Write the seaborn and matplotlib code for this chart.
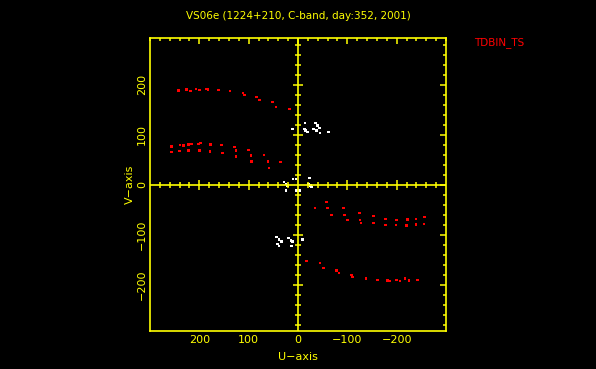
import numpy as np
import pandas as pd
import matplotlib
matplotlib.use("Agg")
import matplotlib.pyplot as plt
import seaborn as sns

# ---- data (u, v in the plot units) ----
red_u = [242.6, 225.6, 217.5, 206.8, 200.1, 186.5, 182.4, 161.6, 137.8, 111.5, 108.9, 83.7, 78.4, 52.1, 44.6, 17.6,
         256, 239.2, 232.5, 222.4, 215.5, 202.1, 197.2, 177, 154.7, 129.1, 100.7, 68.9, 35.1,
         256, 240.6, 222.4, 200.1, 178.4, 152.6, 125.7, 125.7, 95.3, 93.9, 60.8, 58.8,
         -34.5, -58.2, -60.2, -68.3, -91.8, -93.9, -99.9, -124.3, -125.7, -127.7, -152.6, -152.6, -177.8, -177.8,
         -200.1, -198.7, -221.6, -220.4, -239.2, -239.2, -256, -255.4,
         -17.6, -44.6, -51.3, -78.5, -83.1, -108.9, -110.9, -137.8, -160.8, -181.8, -186.5, -200.1, -206.8,
         -216.9, -225, -241.8]
red_v = [188, 190, 186.6, 191.4, 188.6, 191.4, 190, 189.4, 186.6, 182.6, 179.4, 175.4, 169.4, 165.4, 155.4, 151.4,
         76, 79.4, 78, 80, 81.4, 81.4, 82.6, 80, 79.4, 74.6, 69.4, 59.4, 45.4,
         64.6, 66.6, 68, 68, 66, 62.6, 68, 56, 58, 46, 46, 32.6,
         -47.4, -35.4, -46.6, -60.6, -47.4, -60.6, -70.6, -57.4, -70.6, -77.4, -63.4, -77.4, -68.6, -81.4,
         -70.6, -81.4, -70, -82, -68.6, -80, -65.4, -78.6,
         -153.4, -157.4, -167.4, -172, -177.4, -181.4, -184.6, -188, -190.6, -192, -193.4, -190.6, -193.4,
         -188, -192, -190.6]

white_u = [-14.2, -12.8, -15.6, -19.7, 11.6, -35.9, -39.1, -43.2, -31, -37.9, -44.6, -61.4,
           28.4, 24.3, 21.7, 24.3, 4, 10, 2.6, -3, -22.9, -20.9, -25.7, -27.8,
           43.2, 38.5, 33, 41.2, 38.5, 19.7, 14.2, 11.6, 12.8, -8.7]
white_v = [122.6, 111.4, 108, 104.6, 111.4, 122.6, 118, 113.4, 111.4, 108, 102.6, 104.6,
           4.6, 1.4, -2, -12, 11.4, 11.4, -12, -12, 12.6, 1.4, -2, -5.4,
           -105.4, -110, -114, -118.6, -123.4, -107.4, -112, -114, -123.4, -110]

x_ticks = [200, 100, 0, -100, -200]
y_ticks = [-200, -100, 0, 100, 200]

title = "VS06e (1224+210, C-band, day:352, 2001)"
tag = "TDBIN_TS"

YEL = "#ffff00"

df = pd.DataFrame({
    "u": red_u + white_u,
    "v": red_v + white_v,
    "kind": ["red"] * len(red_u) + ["white"] * len(white_u),
})

sns.set_style("dark")
plt.rcParams["font.family"] = ["DejaVu Sans"]

fig = plt.figure(figsize=(5.96, 3.69), dpi=100, facecolor="black")
ax = fig.add_axes([150 / 596, 1 - 331 / 369, 296 / 596, 293 / 369])
ax.set_facecolor("black")
ax.grid(False)

sns.scatterplot(data=df, x="u", y="v", hue="kind", palette={"red": "#ff0000", "white": "#ffffff"},
                marker="s", s=3.5, linewidth=0, legend=False, ax=ax)

ax.set_xlim(300, -300)
ax.set_ylim(-293, 293)

# central cross with ticks
ax.axvline(0, color=YEL, lw=1.2, zorder=1)
ax.axhline(0, color=YEL, lw=1.2, zorder=1)
minor = np.arange(-280, 281, 20)
minor = minor[(minor % 100) != 0]
major = np.array([-200, -100, 100, 200])
ax.plot(np.zeros(len(minor)), minor, ls="none", marker="_", ms=4.3, mew=1.1, color=YEL, zorder=1)
ax.plot(np.zeros(len(major)), major, ls="none", marker="_", ms=7.5, mew=1.1, color=YEL, zorder=1)
ax.plot(minor, np.zeros(len(minor)), ls="none", marker="|", ms=4.3, mew=1.1, color=YEL, zorder=1)
ax.plot(major, np.zeros(len(major)), ls="none", marker="|", ms=7.5, mew=1.1, color=YEL, zorder=1)

for s in ax.spines.values():
    s.set_color(YEL)
    s.set_linewidth(1.2)
    s.set_visible(True)

ax.set_xticks(x_ticks)
ax.set_yticks(y_ticks)
ax.set_xticklabels([str(t).replace("-", "\u2212") for t in x_ticks])
ax.set_yticklabels([str(t).replace("-", "\u2212") for t in y_ticks])
ax.xaxis.set_minor_locator(matplotlib.ticker.MultipleLocator(20))
ax.yaxis.set_minor_locator(matplotlib.ticker.MultipleLocator(20))
ax.tick_params(which="both", direction="in", top=True, right=True, colors=YEL, labelsize=8, width=1.1)
ax.tick_params(which="major", length=4.5)
ax.tick_params(which="minor", length=2.2)
ax.tick_params(axis="x", pad=3)
ax.tick_params(axis="y", pad=2, labelrotation=90)
for lab in ax.get_yticklabels():
    lab.set_va("center")

ax.set_xlabel("U\u2212axis", color=YEL, fontsize=8, labelpad=5)
ax.set_ylabel("V\u2212axis", color=YEL, fontsize=8, labelpad=2)

fig.text(298 / 596, 1 - 16 / 369, title, color=YEL, fontsize=7.5, ha="center", va="center")
fig.text(474 / 596, 1 - 43 / 369, tag, color="#ff0000", fontsize=7.5, ha="left", va="center")

fig.savefig("out.png", dpi=100, facecolor="black")
